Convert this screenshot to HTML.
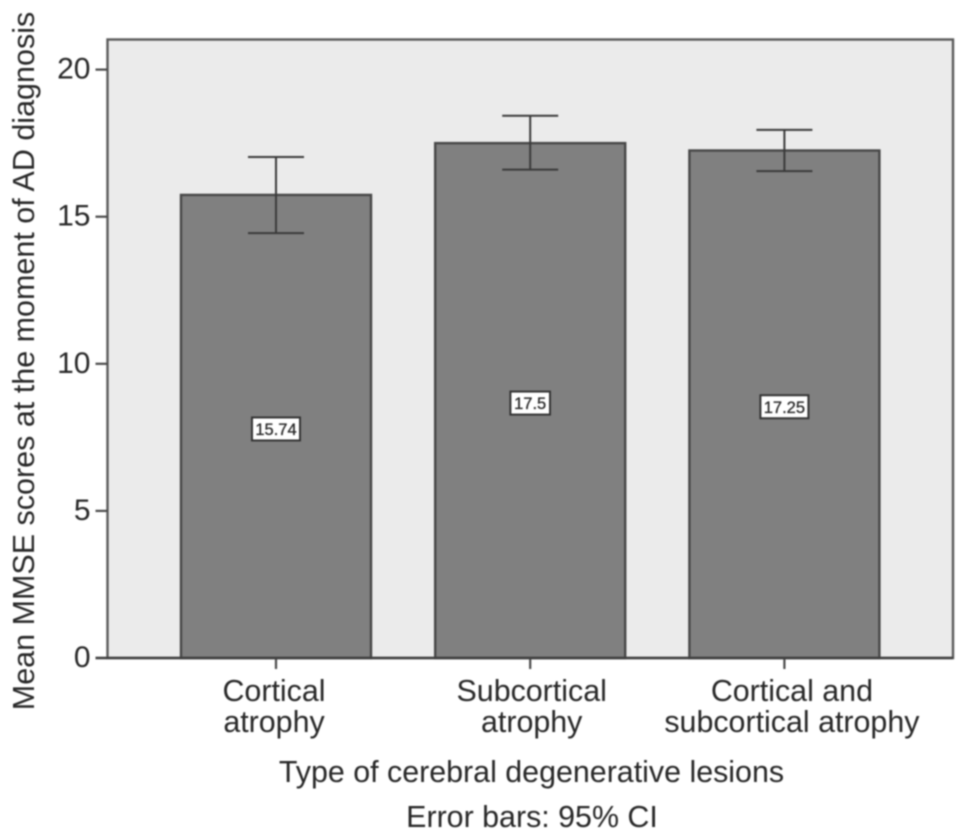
<!DOCTYPE html>
<html>
<head>
<meta charset="utf-8">
<title>Mean MMSE scores by lesion type</title>
<style>
html,body{margin:0;padding:0;background:#fff;width:969px;height:840px;overflow:hidden}
svg{display:block;filter:blur(0.7px)}
text{font-family:"Liberation Sans",sans-serif;fill:#282828}
</style>
</head>
<body>
<svg id="chart" xmlns="http://www.w3.org/2000/svg" width="969" height="840" viewBox="0 0 969 840"></svg>
<script>
const categories = [["Cortical","atrophy"],["Subcortical","atrophy"],["Cortical and","subcortical atrophy"]];
const means = [15.74, 17.5, 17.25];
const ciLow = [14.44, 16.6, 16.55];
const ciHigh = [17.03, 18.43, 17.95];
const valueLabels = ["15.74", "17.5", "17.25"];
const yTicks = [0, 5, 10, 15, 20];

const svg = document.getElementById('chart');
const NS = 'http://www.w3.org/2000/svg';
const plotLeft = 107.5, plotRight = 953, plotTop = 39.5, plotBottom = 658;
const pxPerUnit = 29.42;
const firstCenter = 276, bandStep = 254.2, barWidth = 190, capHalf = 28;
const y = v => plotBottom - v * pxPerUnit;
const x = i => firstCenter + i * bandStep;
const labelShift = i => i === 0 ? -2 : (i === 1 ? 1.5 : 7.5);

function make(tag, attrs, parent) {
  const el = document.createElementNS(NS, tag);
  for (const k in attrs) el.setAttribute(k, attrs[k]);
  (parent || svg).appendChild(el);
  return el;
}

const plotBg = make('rect', {x: plotLeft, y: plotTop, width: plotRight - plotLeft, height: plotBottom - plotTop, fill: '#ebebeb', stroke: '#5a5a5a', 'stroke-width': 2.4});



yTicks.forEach(t => {
  const tick = make('line', {x1: plotLeft - 12, x2: plotLeft, y1: y(t), y2: y(t), stroke: '#4a4a4a', 'stroke-width': 2.2});
  
  
  const label = make('text', {x: 90.5, y: y(t) + 9, 'text-anchor': 'end', 'font-size': 30});
  
  
  label.textContent = t;
});

means.forEach((m, i) => {
  const cx = x(i);
  const bar = make('rect', {x: cx - barWidth / 2, y: y(m), width: barWidth, height: plotBottom - y(m), fill: '#808080', stroke: '#474747', 'stroke-width': 2.4});
  
  

  const stem = make('line', {x1: cx, x2: cx, y1: y(ciLow[i]), y2: y(ciHigh[i]), stroke: '#3a3a3a', 'stroke-width': 2});
  
  
  const capHigh = make('line', {x1: cx - capHalf, x2: cx + capHalf, y1: y(ciHigh[i]), y2: y(ciHigh[i]), stroke: '#3a3a3a', 'stroke-width': 2});
  
  
  const capLow = make('line', {x1: cx - capHalf, x2: cx + capHalf, y1: y(ciLow[i]), y2: y(ciLow[i]), stroke: '#3a3a3a', 'stroke-width': 2});
  
  

  const labelY = y(m / 2) + 2.5;
  const boxW = valueLabels[i].length * 8.4 + 6;
  const box = make('rect', {x: cx - boxW / 2, y: labelY - 11.5, width: boxW, height: 23, fill: '#fff', stroke: '#333', 'stroke-width': 2});
  
  
  const val = make('text', {x: cx, y: labelY + 6, 'text-anchor': 'middle', 'font-size': 16.5, 'stroke': '#282828', 'stroke-width': 0.3});
  
  
  val.textContent = valueLabels[i];

  const xTick = make('line', {x1: cx, x2: cx, y1: plotBottom, y2: plotBottom + 11, stroke: '#4a4a4a', 'stroke-width': 2.2});
  
  

  categories[i].forEach((line, j) => {
    const cat = make('text', {x: cx + labelShift(i), y: 701 + j * 31, 'text-anchor': 'middle', 'font-size': 30.4});
    
    
    cat.textContent = line;
  });
});

const axisLine = make('line', {x1: plotLeft - 12, x2: plotRight, y1: plotBottom, y2: plotBottom, stroke: '#404040', 'stroke-width': 2.6});



const xTitle = make('text', {x: 531.5, y: 782, 'text-anchor': 'middle', 'font-size': 30.4});


xTitle.textContent = 'Type of cerebral degenerative lesions';

const note = make('text', {x: 532, y: 827, 'text-anchor': 'middle', 'font-size': 30.4});


note.textContent = 'Error bars: 95% CI';

const yTitle = make('text', {x: 0, y: 0, 'text-anchor': 'middle', 'font-size': 30.5, transform: 'translate(34 361) rotate(-90)'});


yTitle.textContent = 'Mean MMSE scores at the moment of AD diagnosis';
</script>
</body>
</html>
